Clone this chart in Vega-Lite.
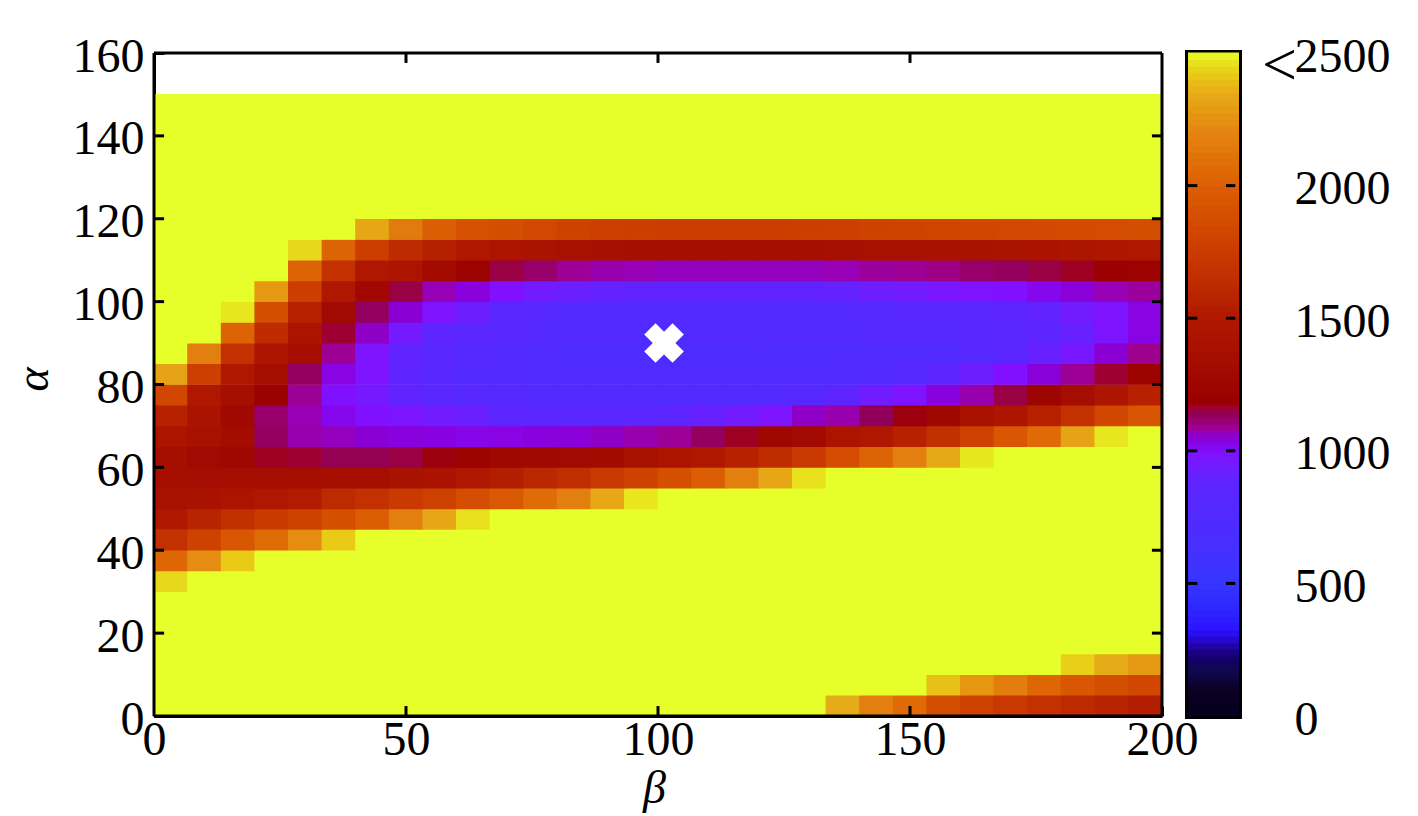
{"$schema":"https://vega.github.io/schema/vega-lite/v6.json","background":"white","padding":{"left":10,"top":30,"right":5,"bottom":5},"bounds":"flush","spacing":26,
"config":{"view":{"stroke":null},"axis":{"labelFont":"Liberation Serif","labelFontSize":48,"labelColor":"#000","titleFont":"Liberation Serif","titleFontSize":46,"titleFontStyle":"italic","titleFontWeight":"normal","titleColor":"#000","grid":false,"tickColor":"#000","tickWidth":3,"tickSize":-10,"domainColor":"#000","domainWidth":3,"zindex":1}},
"hconcat":[
{"width":1008,"height":663,
"layer":[
{"data":{"values":[
{"b":3.33,"a":2.5,"v":2500},{"b":10,"a":2.5,"v":2500},{"b":16.67,"a":2.5,"v":2500},{"b":23.33,"a":2.5,"v":2500},{"b":30,"a":2.5,"v":2500},{"b":36.67,"a":2.5,"v":2500},{"b":43.33,"a":2.5,"v":2500},{"b":50,"a":2.5,"v":2500},{"b":56.67,"a":2.5,"v":2500},{"b":63.33,"a":2.5,"v":2500},{"b":70,"a":2.5,"v":2500},{"b":76.67,"a":2.5,"v":2500},{"b":83.33,"a":2.5,"v":2500},{"b":90,"a":2.5,"v":2500},{"b":96.67,"a":2.5,"v":2500},{"b":103.33,"a":2.5,"v":2500},{"b":110,"a":2.5,"v":2500},{"b":116.67,"a":2.5,"v":2500},{"b":123.33,"a":2.5,"v":2500},{"b":130,"a":2.5,"v":2500},{"b":136.67,"a":2.5,"v":2350},{"b":143.33,"a":2.5,"v":2170},{"b":150,"a":2.5,"v":2060},{"b":156.67,"a":2.5,"v":1880},{"b":163.33,"a":2.5,"v":1790},{"b":170,"a":2.5,"v":1730},{"b":176.67,"a":2.5,"v":1680},{"b":183.33,"a":2.5,"v":1620},{"b":190,"a":2.5,"v":1570},{"b":196.67,"a":2.5,"v":1530},
{"b":3.33,"a":7.5,"v":2500},{"b":10,"a":7.5,"v":2500},{"b":16.67,"a":7.5,"v":2500},{"b":23.33,"a":7.5,"v":2500},{"b":30,"a":7.5,"v":2500},{"b":36.67,"a":7.5,"v":2500},{"b":43.33,"a":7.5,"v":2500},{"b":50,"a":7.5,"v":2500},{"b":56.67,"a":7.5,"v":2500},{"b":63.33,"a":7.5,"v":2500},{"b":70,"a":7.5,"v":2500},{"b":76.67,"a":7.5,"v":2500},{"b":83.33,"a":7.5,"v":2500},{"b":90,"a":7.5,"v":2500},{"b":96.67,"a":7.5,"v":2500},{"b":103.33,"a":7.5,"v":2500},{"b":110,"a":7.5,"v":2500},{"b":116.67,"a":7.5,"v":2500},{"b":123.33,"a":7.5,"v":2500},{"b":130,"a":7.5,"v":2500},{"b":136.67,"a":7.5,"v":2500},{"b":143.33,"a":7.5,"v":2500},{"b":150,"a":7.5,"v":2500},{"b":156.67,"a":7.5,"v":2400},{"b":163.33,"a":7.5,"v":2270},{"b":170,"a":7.5,"v":2160},{"b":176.67,"a":7.5,"v":2040},{"b":183.33,"a":7.5,"v":1950},{"b":190,"a":7.5,"v":1880},{"b":196.67,"a":7.5,"v":1830},
{"b":3.33,"a":12.5,"v":2500},{"b":10,"a":12.5,"v":2500},{"b":16.67,"a":12.5,"v":2500},{"b":23.33,"a":12.5,"v":2500},{"b":30,"a":12.5,"v":2500},{"b":36.67,"a":12.5,"v":2500},{"b":43.33,"a":12.5,"v":2500},{"b":50,"a":12.5,"v":2500},{"b":56.67,"a":12.5,"v":2500},{"b":63.33,"a":12.5,"v":2500},{"b":70,"a":12.5,"v":2500},{"b":76.67,"a":12.5,"v":2500},{"b":83.33,"a":12.5,"v":2500},{"b":90,"a":12.5,"v":2500},{"b":96.67,"a":12.5,"v":2500},{"b":103.33,"a":12.5,"v":2500},{"b":110,"a":12.5,"v":2500},{"b":116.67,"a":12.5,"v":2500},{"b":123.33,"a":12.5,"v":2500},{"b":130,"a":12.5,"v":2500},{"b":136.67,"a":12.5,"v":2500},{"b":143.33,"a":12.5,"v":2500},{"b":150,"a":12.5,"v":2500},{"b":156.67,"a":12.5,"v":2500},{"b":163.33,"a":12.5,"v":2500},{"b":170,"a":12.5,"v":2500},{"b":176.67,"a":12.5,"v":2500},{"b":183.33,"a":12.5,"v":2430},{"b":190,"a":12.5,"v":2350},{"b":196.67,"a":12.5,"v":2280},
{"b":3.33,"a":17.5,"v":2500},{"b":10,"a":17.5,"v":2500},{"b":16.67,"a":17.5,"v":2500},{"b":23.33,"a":17.5,"v":2500},{"b":30,"a":17.5,"v":2500},{"b":36.67,"a":17.5,"v":2500},{"b":43.33,"a":17.5,"v":2500},{"b":50,"a":17.5,"v":2500},{"b":56.67,"a":17.5,"v":2500},{"b":63.33,"a":17.5,"v":2500},{"b":70,"a":17.5,"v":2500},{"b":76.67,"a":17.5,"v":2500},{"b":83.33,"a":17.5,"v":2500},{"b":90,"a":17.5,"v":2500},{"b":96.67,"a":17.5,"v":2500},{"b":103.33,"a":17.5,"v":2500},{"b":110,"a":17.5,"v":2500},{"b":116.67,"a":17.5,"v":2500},{"b":123.33,"a":17.5,"v":2500},{"b":130,"a":17.5,"v":2500},{"b":136.67,"a":17.5,"v":2500},{"b":143.33,"a":17.5,"v":2500},{"b":150,"a":17.5,"v":2500},{"b":156.67,"a":17.5,"v":2500},{"b":163.33,"a":17.5,"v":2500},{"b":170,"a":17.5,"v":2500},{"b":176.67,"a":17.5,"v":2500},{"b":183.33,"a":17.5,"v":2500},{"b":190,"a":17.5,"v":2500},{"b":196.67,"a":17.5,"v":2500},
{"b":3.33,"a":22.5,"v":2500},{"b":10,"a":22.5,"v":2500},{"b":16.67,"a":22.5,"v":2500},{"b":23.33,"a":22.5,"v":2500},{"b":30,"a":22.5,"v":2500},{"b":36.67,"a":22.5,"v":2500},{"b":43.33,"a":22.5,"v":2500},{"b":50,"a":22.5,"v":2500},{"b":56.67,"a":22.5,"v":2500},{"b":63.33,"a":22.5,"v":2500},{"b":70,"a":22.5,"v":2500},{"b":76.67,"a":22.5,"v":2500},{"b":83.33,"a":22.5,"v":2500},{"b":90,"a":22.5,"v":2500},{"b":96.67,"a":22.5,"v":2500},{"b":103.33,"a":22.5,"v":2500},{"b":110,"a":22.5,"v":2500},{"b":116.67,"a":22.5,"v":2500},{"b":123.33,"a":22.5,"v":2500},{"b":130,"a":22.5,"v":2500},{"b":136.67,"a":22.5,"v":2500},{"b":143.33,"a":22.5,"v":2500},{"b":150,"a":22.5,"v":2500},{"b":156.67,"a":22.5,"v":2500},{"b":163.33,"a":22.5,"v":2500},{"b":170,"a":22.5,"v":2500},{"b":176.67,"a":22.5,"v":2500},{"b":183.33,"a":22.5,"v":2500},{"b":190,"a":22.5,"v":2500},{"b":196.67,"a":22.5,"v":2500},
{"b":3.33,"a":27.5,"v":2500},{"b":10,"a":27.5,"v":2500},{"b":16.67,"a":27.5,"v":2500},{"b":23.33,"a":27.5,"v":2500},{"b":30,"a":27.5,"v":2500},{"b":36.67,"a":27.5,"v":2500},{"b":43.33,"a":27.5,"v":2500},{"b":50,"a":27.5,"v":2500},{"b":56.67,"a":27.5,"v":2500},{"b":63.33,"a":27.5,"v":2500},{"b":70,"a":27.5,"v":2500},{"b":76.67,"a":27.5,"v":2500},{"b":83.33,"a":27.5,"v":2500},{"b":90,"a":27.5,"v":2500},{"b":96.67,"a":27.5,"v":2500},{"b":103.33,"a":27.5,"v":2500},{"b":110,"a":27.5,"v":2500},{"b":116.67,"a":27.5,"v":2500},{"b":123.33,"a":27.5,"v":2500},{"b":130,"a":27.5,"v":2500},{"b":136.67,"a":27.5,"v":2500},{"b":143.33,"a":27.5,"v":2500},{"b":150,"a":27.5,"v":2500},{"b":156.67,"a":27.5,"v":2500},{"b":163.33,"a":27.5,"v":2500},{"b":170,"a":27.5,"v":2500},{"b":176.67,"a":27.5,"v":2500},{"b":183.33,"a":27.5,"v":2500},{"b":190,"a":27.5,"v":2500},{"b":196.67,"a":27.5,"v":2500},
{"b":3.33,"a":32.5,"v":2450},{"b":10,"a":32.5,"v":2500},{"b":16.67,"a":32.5,"v":2500},{"b":23.33,"a":32.5,"v":2500},{"b":30,"a":32.5,"v":2500},{"b":36.67,"a":32.5,"v":2500},{"b":43.33,"a":32.5,"v":2500},{"b":50,"a":32.5,"v":2500},{"b":56.67,"a":32.5,"v":2500},{"b":63.33,"a":32.5,"v":2500},{"b":70,"a":32.5,"v":2500},{"b":76.67,"a":32.5,"v":2500},{"b":83.33,"a":32.5,"v":2500},{"b":90,"a":32.5,"v":2500},{"b":96.67,"a":32.5,"v":2500},{"b":103.33,"a":32.5,"v":2500},{"b":110,"a":32.5,"v":2500},{"b":116.67,"a":32.5,"v":2500},{"b":123.33,"a":32.5,"v":2500},{"b":130,"a":32.5,"v":2500},{"b":136.67,"a":32.5,"v":2500},{"b":143.33,"a":32.5,"v":2500},{"b":150,"a":32.5,"v":2500},{"b":156.67,"a":32.5,"v":2500},{"b":163.33,"a":32.5,"v":2500},{"b":170,"a":32.5,"v":2500},{"b":176.67,"a":32.5,"v":2500},{"b":183.33,"a":32.5,"v":2500},{"b":190,"a":32.5,"v":2500},{"b":196.67,"a":32.5,"v":2500},
{"b":3.33,"a":37.5,"v":2040},{"b":10,"a":37.5,"v":2230},{"b":16.67,"a":37.5,"v":2420},{"b":23.33,"a":37.5,"v":2500},{"b":30,"a":37.5,"v":2500},{"b":36.67,"a":37.5,"v":2500},{"b":43.33,"a":37.5,"v":2500},{"b":50,"a":37.5,"v":2500},{"b":56.67,"a":37.5,"v":2500},{"b":63.33,"a":37.5,"v":2500},{"b":70,"a":37.5,"v":2500},{"b":76.67,"a":37.5,"v":2500},{"b":83.33,"a":37.5,"v":2500},{"b":90,"a":37.5,"v":2500},{"b":96.67,"a":37.5,"v":2500},{"b":103.33,"a":37.5,"v":2500},{"b":110,"a":37.5,"v":2500},{"b":116.67,"a":37.5,"v":2500},{"b":123.33,"a":37.5,"v":2500},{"b":130,"a":37.5,"v":2500},{"b":136.67,"a":37.5,"v":2500},{"b":143.33,"a":37.5,"v":2500},{"b":150,"a":37.5,"v":2500},{"b":156.67,"a":37.5,"v":2500},{"b":163.33,"a":37.5,"v":2500},{"b":170,"a":37.5,"v":2500},{"b":176.67,"a":37.5,"v":2500},{"b":183.33,"a":37.5,"v":2500},{"b":190,"a":37.5,"v":2500},{"b":196.67,"a":37.5,"v":2500},
{"b":3.33,"a":42.5,"v":1680},{"b":10,"a":42.5,"v":1800},{"b":16.67,"a":42.5,"v":1950},{"b":23.33,"a":42.5,"v":2070},{"b":30,"a":42.5,"v":2230},{"b":36.67,"a":42.5,"v":2420},{"b":43.33,"a":42.5,"v":2500},{"b":50,"a":42.5,"v":2500},{"b":56.67,"a":42.5,"v":2500},{"b":63.33,"a":42.5,"v":2500},{"b":70,"a":42.5,"v":2500},{"b":76.67,"a":42.5,"v":2500},{"b":83.33,"a":42.5,"v":2500},{"b":90,"a":42.5,"v":2500},{"b":96.67,"a":42.5,"v":2500},{"b":103.33,"a":42.5,"v":2500},{"b":110,"a":42.5,"v":2500},{"b":116.67,"a":42.5,"v":2500},{"b":123.33,"a":42.5,"v":2500},{"b":130,"a":42.5,"v":2500},{"b":136.67,"a":42.5,"v":2500},{"b":143.33,"a":42.5,"v":2500},{"b":150,"a":42.5,"v":2500},{"b":156.67,"a":42.5,"v":2500},{"b":163.33,"a":42.5,"v":2500},{"b":170,"a":42.5,"v":2500},{"b":176.67,"a":42.5,"v":2500},{"b":183.33,"a":42.5,"v":2500},{"b":190,"a":42.5,"v":2500},{"b":196.67,"a":42.5,"v":2500},
{"b":3.33,"a":47.5,"v":1500},{"b":10,"a":47.5,"v":1570},{"b":16.67,"a":47.5,"v":1670},{"b":23.33,"a":47.5,"v":1740},{"b":30,"a":47.5,"v":1800},{"b":36.67,"a":47.5,"v":1890},{"b":43.33,"a":47.5,"v":2000},{"b":50,"a":47.5,"v":2170},{"b":56.67,"a":47.5,"v":2330},{"b":63.33,"a":47.5,"v":2460},{"b":70,"a":47.5,"v":2500},{"b":76.67,"a":47.5,"v":2500},{"b":83.33,"a":47.5,"v":2500},{"b":90,"a":47.5,"v":2500},{"b":96.67,"a":47.5,"v":2500},{"b":103.33,"a":47.5,"v":2500},{"b":110,"a":47.5,"v":2500},{"b":116.67,"a":47.5,"v":2500},{"b":123.33,"a":47.5,"v":2500},{"b":130,"a":47.5,"v":2500},{"b":136.67,"a":47.5,"v":2500},{"b":143.33,"a":47.5,"v":2500},{"b":150,"a":47.5,"v":2500},{"b":156.67,"a":47.5,"v":2500},{"b":163.33,"a":47.5,"v":2500},{"b":170,"a":47.5,"v":2500},{"b":176.67,"a":47.5,"v":2500},{"b":183.33,"a":47.5,"v":2500},{"b":190,"a":47.5,"v":2500},{"b":196.67,"a":47.5,"v":2500},
{"b":3.33,"a":52.5,"v":1380},{"b":10,"a":52.5,"v":1410},{"b":16.67,"a":52.5,"v":1440},{"b":23.33,"a":52.5,"v":1480},{"b":30,"a":52.5,"v":1520},{"b":36.67,"a":52.5,"v":1620},{"b":43.33,"a":52.5,"v":1680},{"b":50,"a":52.5,"v":1740},{"b":56.67,"a":52.5,"v":1790},{"b":63.33,"a":52.5,"v":1880},{"b":70,"a":52.5,"v":1960},{"b":76.67,"a":52.5,"v":2070},{"b":83.33,"a":52.5,"v":2170},{"b":90,"a":52.5,"v":2340},{"b":96.67,"a":52.5,"v":2470},{"b":103.33,"a":52.5,"v":2500},{"b":110,"a":52.5,"v":2500},{"b":116.67,"a":52.5,"v":2500},{"b":123.33,"a":52.5,"v":2500},{"b":130,"a":52.5,"v":2500},{"b":136.67,"a":52.5,"v":2500},{"b":143.33,"a":52.5,"v":2500},{"b":150,"a":52.5,"v":2500},{"b":156.67,"a":52.5,"v":2500},{"b":163.33,"a":52.5,"v":2500},{"b":170,"a":52.5,"v":2500},{"b":176.67,"a":52.5,"v":2500},{"b":183.33,"a":52.5,"v":2500},{"b":190,"a":52.5,"v":2500},{"b":196.67,"a":52.5,"v":2500},
{"b":3.33,"a":57.5,"v":1350},{"b":10,"a":57.5,"v":1340},{"b":16.67,"a":57.5,"v":1340},{"b":23.33,"a":57.5,"v":1340},{"b":30,"a":57.5,"v":1340},{"b":36.67,"a":57.5,"v":1350},{"b":43.33,"a":57.5,"v":1360},{"b":50,"a":57.5,"v":1400},{"b":56.67,"a":57.5,"v":1430},{"b":63.33,"a":57.5,"v":1490},{"b":70,"a":57.5,"v":1530},{"b":76.67,"a":57.5,"v":1600},{"b":83.33,"a":57.5,"v":1650},{"b":90,"a":57.5,"v":1730},{"b":96.67,"a":57.5,"v":1800},{"b":103.33,"a":57.5,"v":1890},{"b":110,"a":57.5,"v":2000},{"b":116.67,"a":57.5,"v":2170},{"b":123.33,"a":57.5,"v":2330},{"b":130,"a":57.5,"v":2460},{"b":136.67,"a":57.5,"v":2500},{"b":143.33,"a":57.5,"v":2500},{"b":150,"a":57.5,"v":2500},{"b":156.67,"a":57.5,"v":2500},{"b":163.33,"a":57.5,"v":2500},{"b":170,"a":57.5,"v":2500},{"b":176.67,"a":57.5,"v":2500},{"b":183.33,"a":57.5,"v":2500},{"b":190,"a":57.5,"v":2500},{"b":196.67,"a":57.5,"v":2500},
{"b":3.33,"a":62.5,"v":1350},{"b":10,"a":62.5,"v":1300},{"b":16.67,"a":62.5,"v":1270},{"b":23.33,"a":62.5,"v":1170},{"b":30,"a":62.5,"v":1160},{"b":36.67,"a":62.5,"v":1140},{"b":43.33,"a":62.5,"v":1140},{"b":50,"a":62.5,"v":1150},{"b":56.67,"a":62.5,"v":1180},{"b":63.33,"a":62.5,"v":1210},{"b":70,"a":62.5,"v":1270},{"b":76.67,"a":62.5,"v":1280},{"b":83.33,"a":62.5,"v":1300},{"b":90,"a":62.5,"v":1320},{"b":96.67,"a":62.5,"v":1380},{"b":103.33,"a":62.5,"v":1440},{"b":110,"a":62.5,"v":1490},{"b":116.67,"a":62.5,"v":1560},{"b":123.33,"a":62.5,"v":1640},{"b":130,"a":62.5,"v":1730},{"b":136.67,"a":62.5,"v":1870},{"b":143.33,"a":62.5,"v":2030},{"b":150,"a":62.5,"v":2170},{"b":156.67,"a":62.5,"v":2340},{"b":163.33,"a":62.5,"v":2470},{"b":170,"a":62.5,"v":2500},{"b":176.67,"a":62.5,"v":2500},{"b":183.33,"a":62.5,"v":2500},{"b":190,"a":62.5,"v":2500},{"b":196.67,"a":62.5,"v":2500},
{"b":3.33,"a":67.5,"v":1440},{"b":10,"a":67.5,"v":1380},{"b":16.67,"a":67.5,"v":1330},{"b":23.33,"a":67.5,"v":1130},{"b":30,"a":67.5,"v":1075},{"b":36.67,"a":67.5,"v":1065},{"b":43.33,"a":67.5,"v":1050},{"b":50,"a":67.5,"v":1040},{"b":56.67,"a":67.5,"v":1035},{"b":63.33,"a":67.5,"v":1025},{"b":70,"a":67.5,"v":1030},{"b":76.67,"a":67.5,"v":1040},{"b":83.33,"a":67.5,"v":1045},{"b":90,"a":67.5,"v":1060},{"b":96.67,"a":67.5,"v":1075},{"b":103.33,"a":67.5,"v":1090},{"b":110,"a":67.5,"v":1130},{"b":116.67,"a":67.5,"v":1170},{"b":123.33,"a":67.5,"v":1260},{"b":130,"a":67.5,"v":1300},{"b":136.67,"a":67.5,"v":1440},{"b":143.33,"a":67.5,"v":1490},{"b":150,"a":67.5,"v":1560},{"b":156.67,"a":67.5,"v":1670},{"b":163.33,"a":67.5,"v":1790},{"b":170,"a":67.5,"v":1950},{"b":176.67,"a":67.5,"v":2060},{"b":183.33,"a":67.5,"v":2320},{"b":190,"a":67.5,"v":2470},{"b":196.67,"a":67.5,"v":2500},
{"b":3.33,"a":72.5,"v":1560},{"b":10,"a":72.5,"v":1420},{"b":16.67,"a":72.5,"v":1280},{"b":23.33,"a":72.5,"v":1120},{"b":30,"a":72.5,"v":1070},{"b":36.67,"a":72.5,"v":1020},{"b":43.33,"a":72.5,"v":1000},{"b":50,"a":72.5,"v":980},{"b":56.67,"a":72.5,"v":950},{"b":63.33,"a":72.5,"v":920},{"b":70,"a":72.5,"v":860},{"b":76.67,"a":72.5,"v":850},{"b":83.33,"a":72.5,"v":840},{"b":90,"a":72.5,"v":840},{"b":96.67,"a":72.5,"v":850},{"b":103.33,"a":72.5,"v":870},{"b":110,"a":72.5,"v":910},{"b":116.67,"a":72.5,"v":950},{"b":123.33,"a":72.5,"v":990},{"b":130,"a":72.5,"v":1060},{"b":136.67,"a":72.5,"v":1075},{"b":143.33,"a":72.5,"v":1135},{"b":150,"a":72.5,"v":1180},{"b":156.67,"a":72.5,"v":1270},{"b":163.33,"a":72.5,"v":1380},{"b":170,"a":72.5,"v":1460},{"b":176.67,"a":72.5,"v":1560},{"b":183.33,"a":72.5,"v":1680},{"b":190,"a":72.5,"v":1830},{"b":196.67,"a":72.5,"v":1940},
{"b":3.33,"a":77.5,"v":1830},{"b":10,"a":77.5,"v":1490},{"b":16.67,"a":77.5,"v":1360},{"b":23.33,"a":77.5,"v":1200},{"b":30,"a":77.5,"v":1090},{"b":36.67,"a":77.5,"v":1000},{"b":43.33,"a":77.5,"v":960},{"b":50,"a":77.5,"v":890},{"b":56.67,"a":77.5,"v":840},{"b":63.33,"a":77.5,"v":810},{"b":70,"a":77.5,"v":790},{"b":76.67,"a":77.5,"v":780},{"b":83.33,"a":77.5,"v":760},{"b":90,"a":77.5,"v":760},{"b":96.67,"a":77.5,"v":760},{"b":103.33,"a":77.5,"v":760},{"b":110,"a":77.5,"v":760},{"b":116.67,"a":77.5,"v":760},{"b":123.33,"a":77.5,"v":770},{"b":130,"a":77.5,"v":810},{"b":136.67,"a":77.5,"v":880},{"b":143.33,"a":77.5,"v":940},{"b":150,"a":77.5,"v":990},{"b":156.67,"a":77.5,"v":1040},{"b":163.33,"a":77.5,"v":1075},{"b":170,"a":77.5,"v":1150},{"b":176.67,"a":77.5,"v":1250},{"b":183.33,"a":77.5,"v":1340},{"b":190,"a":77.5,"v":1460},{"b":196.67,"a":77.5,"v":1560},
{"b":3.33,"a":82.5,"v":2320},{"b":10,"a":82.5,"v":1780},{"b":16.67,"a":82.5,"v":1480},{"b":23.33,"a":82.5,"v":1340},{"b":30,"a":82.5,"v":1130},{"b":36.67,"a":82.5,"v":1030},{"b":43.33,"a":82.5,"v":990},{"b":50,"a":82.5,"v":880},{"b":56.67,"a":82.5,"v":820},{"b":63.33,"a":82.5,"v":780},{"b":70,"a":82.5,"v":770},{"b":76.67,"a":82.5,"v":750},{"b":83.33,"a":82.5,"v":730},{"b":90,"a":82.5,"v":730},{"b":96.67,"a":82.5,"v":730},{"b":103.33,"a":82.5,"v":730},{"b":110,"a":82.5,"v":730},{"b":116.67,"a":82.5,"v":730},{"b":123.33,"a":82.5,"v":730},{"b":130,"a":82.5,"v":730},{"b":136.67,"a":82.5,"v":740},{"b":143.33,"a":82.5,"v":760},{"b":150,"a":82.5,"v":790},{"b":156.67,"a":82.5,"v":850},{"b":163.33,"a":82.5,"v":930},{"b":170,"a":82.5,"v":1000},{"b":176.67,"a":82.5,"v":1045},{"b":183.33,"a":82.5,"v":1090},{"b":190,"a":82.5,"v":1160},{"b":196.67,"a":82.5,"v":1210},
{"b":3.33,"a":87.5,"v":2500},{"b":10,"a":87.5,"v":2170},{"b":16.67,"a":87.5,"v":1680},{"b":23.33,"a":87.5,"v":1460},{"b":30,"a":87.5,"v":1340},{"b":36.67,"a":87.5,"v":1090},{"b":43.33,"a":87.5,"v":990},{"b":50,"a":87.5,"v":890},{"b":56.67,"a":87.5,"v":820},{"b":63.33,"a":87.5,"v":790},{"b":70,"a":87.5,"v":770},{"b":76.67,"a":87.5,"v":750},{"b":83.33,"a":87.5,"v":720},{"b":90,"a":87.5,"v":720},{"b":96.67,"a":87.5,"v":720},{"b":103.33,"a":87.5,"v":720},{"b":110,"a":87.5,"v":720},{"b":116.67,"a":87.5,"v":720},{"b":123.33,"a":87.5,"v":720},{"b":130,"a":87.5,"v":720},{"b":136.67,"a":87.5,"v":730},{"b":143.33,"a":87.5,"v":740},{"b":150,"a":87.5,"v":750},{"b":156.67,"a":87.5,"v":760},{"b":163.33,"a":87.5,"v":800},{"b":170,"a":87.5,"v":850},{"b":176.67,"a":87.5,"v":910},{"b":183.33,"a":87.5,"v":970},{"b":190,"a":87.5,"v":1050},{"b":196.67,"a":87.5,"v":1095},
{"b":3.33,"a":92.5,"v":2500},{"b":10,"a":92.5,"v":2500},{"b":16.67,"a":92.5,"v":2030},{"b":23.33,"a":92.5,"v":1630},{"b":30,"a":92.5,"v":1440},{"b":36.67,"a":92.5,"v":1160},{"b":43.33,"a":92.5,"v":1060},{"b":50,"a":92.5,"v":960},{"b":56.67,"a":92.5,"v":880},{"b":63.33,"a":92.5,"v":840},{"b":70,"a":92.5,"v":800},{"b":76.67,"a":92.5,"v":780},{"b":83.33,"a":92.5,"v":740},{"b":90,"a":92.5,"v":740},{"b":96.67,"a":92.5,"v":740},{"b":103.33,"a":92.5,"v":740},{"b":110,"a":92.5,"v":740},{"b":116.67,"a":92.5,"v":740},{"b":123.33,"a":92.5,"v":740},{"b":130,"a":92.5,"v":740},{"b":136.67,"a":92.5,"v":760},{"b":143.33,"a":92.5,"v":770},{"b":150,"a":92.5,"v":780},{"b":156.67,"a":92.5,"v":790},{"b":163.33,"a":92.5,"v":810},{"b":170,"a":92.5,"v":840},{"b":176.67,"a":92.5,"v":870},{"b":183.33,"a":92.5,"v":910},{"b":190,"a":92.5,"v":990},{"b":196.67,"a":92.5,"v":1030},
{"b":3.33,"a":97.5,"v":2500},{"b":10,"a":97.5,"v":2500},{"b":16.67,"a":97.5,"v":2470},{"b":23.33,"a":97.5,"v":1880},{"b":30,"a":97.5,"v":1560},{"b":36.67,"a":97.5,"v":1300},{"b":43.33,"a":97.5,"v":1130},{"b":50,"a":97.5,"v":1050},{"b":56.67,"a":97.5,"v":990},{"b":63.33,"a":97.5,"v":930},{"b":70,"a":97.5,"v":830},{"b":76.67,"a":97.5,"v":800},{"b":83.33,"a":97.5,"v":770},{"b":90,"a":97.5,"v":770},{"b":96.67,"a":97.5,"v":770},{"b":103.33,"a":97.5,"v":770},{"b":110,"a":97.5,"v":770},{"b":116.67,"a":97.5,"v":770},{"b":123.33,"a":97.5,"v":770},{"b":130,"a":97.5,"v":770},{"b":136.67,"a":97.5,"v":780},{"b":143.33,"a":97.5,"v":790},{"b":150,"a":97.5,"v":800},{"b":156.67,"a":97.5,"v":810},{"b":163.33,"a":97.5,"v":840},{"b":170,"a":97.5,"v":870},{"b":176.67,"a":97.5,"v":890},{"b":183.33,"a":97.5,"v":950},{"b":190,"a":97.5,"v":990},{"b":196.67,"a":97.5,"v":1030},
{"b":3.33,"a":102.5,"v":2500},{"b":10,"a":102.5,"v":2500},{"b":16.67,"a":102.5,"v":2500},{"b":23.33,"a":102.5,"v":2280},{"b":30,"a":102.5,"v":1770},{"b":36.67,"a":102.5,"v":1490},{"b":43.33,"a":102.5,"v":1280},{"b":50,"a":102.5,"v":1150},{"b":56.67,"a":102.5,"v":1070},{"b":63.33,"a":102.5,"v":1040},{"b":70,"a":102.5,"v":1000},{"b":76.67,"a":102.5,"v":950},{"b":83.33,"a":102.5,"v":920},{"b":90,"a":102.5,"v":900},{"b":96.67,"a":102.5,"v":890},{"b":103.33,"a":102.5,"v":890},{"b":110,"a":102.5,"v":890},{"b":116.67,"a":102.5,"v":890},{"b":123.33,"a":102.5,"v":890},{"b":130,"a":102.5,"v":890},{"b":136.67,"a":102.5,"v":900},{"b":143.33,"a":102.5,"v":930},{"b":150,"a":102.5,"v":950},{"b":156.67,"a":102.5,"v":970},{"b":163.33,"a":102.5,"v":990},{"b":170,"a":102.5,"v":1000},{"b":176.67,"a":102.5,"v":1020},{"b":183.33,"a":102.5,"v":1045},{"b":190,"a":102.5,"v":1070},{"b":196.67,"a":102.5,"v":1085},
{"b":3.33,"a":107.5,"v":2500},{"b":10,"a":107.5,"v":2500},{"b":16.67,"a":107.5,"v":2500},{"b":23.33,"a":107.5,"v":2500},{"b":30,"a":107.5,"v":2030},{"b":36.67,"a":107.5,"v":1680},{"b":43.33,"a":107.5,"v":1490},{"b":50,"a":107.5,"v":1440},{"b":56.67,"a":107.5,"v":1300},{"b":63.33,"a":107.5,"v":1210},{"b":70,"a":107.5,"v":1150},{"b":76.67,"a":107.5,"v":1120},{"b":83.33,"a":107.5,"v":1090},{"b":90,"a":107.5,"v":1075},{"b":96.67,"a":107.5,"v":1070},{"b":103.33,"a":107.5,"v":1065},{"b":110,"a":107.5,"v":1065},{"b":116.67,"a":107.5,"v":1065},{"b":123.33,"a":107.5,"v":1065},{"b":130,"a":107.5,"v":1065},{"b":136.67,"a":107.5,"v":1070},{"b":143.33,"a":107.5,"v":1085},{"b":150,"a":107.5,"v":1090},{"b":156.67,"a":107.5,"v":1100},{"b":163.33,"a":107.5,"v":1120},{"b":170,"a":107.5,"v":1130},{"b":176.67,"a":107.5,"v":1150},{"b":183.33,"a":107.5,"v":1170},{"b":190,"a":107.5,"v":1200},{"b":196.67,"a":107.5,"v":1210},
{"b":3.33,"a":112.5,"v":2500},{"b":10,"a":112.5,"v":2500},{"b":16.67,"a":112.5,"v":2500},{"b":23.33,"a":112.5,"v":2500},{"b":30,"a":112.5,"v":2450},{"b":36.67,"a":112.5,"v":2030},{"b":43.33,"a":112.5,"v":1770},{"b":50,"a":112.5,"v":1630},{"b":56.67,"a":112.5,"v":1550},{"b":63.33,"a":112.5,"v":1480},{"b":70,"a":112.5,"v":1440},{"b":76.67,"a":112.5,"v":1420},{"b":83.33,"a":112.5,"v":1390},{"b":90,"a":112.5,"v":1370},{"b":96.67,"a":112.5,"v":1360},{"b":103.33,"a":112.5,"v":1350},{"b":110,"a":112.5,"v":1350},{"b":116.67,"a":112.5,"v":1350},{"b":123.33,"a":112.5,"v":1350},{"b":130,"a":112.5,"v":1360},{"b":136.67,"a":112.5,"v":1370},{"b":143.33,"a":112.5,"v":1380},{"b":150,"a":112.5,"v":1390},{"b":156.67,"a":112.5,"v":1400},{"b":163.33,"a":112.5,"v":1410},{"b":170,"a":112.5,"v":1420},{"b":176.67,"a":112.5,"v":1430},{"b":183.33,"a":112.5,"v":1450},{"b":190,"a":112.5,"v":1470},{"b":196.67,"a":112.5,"v":1480},
{"b":3.33,"a":117.5,"v":2500},{"b":10,"a":117.5,"v":2500},{"b":16.67,"a":117.5,"v":2500},{"b":23.33,"a":117.5,"v":2500},{"b":30,"a":117.5,"v":2500},{"b":36.67,"a":117.5,"v":2500},{"b":43.33,"a":117.5,"v":2330},{"b":50,"a":117.5,"v":2150},{"b":56.67,"a":117.5,"v":2000},{"b":63.33,"a":117.5,"v":1900},{"b":70,"a":117.5,"v":1880},{"b":76.67,"a":117.5,"v":1840},{"b":83.33,"a":117.5,"v":1800},{"b":90,"a":117.5,"v":1780},{"b":96.67,"a":117.5,"v":1770},{"b":103.33,"a":117.5,"v":1760},{"b":110,"a":117.5,"v":1760},{"b":116.67,"a":117.5,"v":1760},{"b":123.33,"a":117.5,"v":1760},{"b":130,"a":117.5,"v":1770},{"b":136.67,"a":117.5,"v":1780},{"b":143.33,"a":117.5,"v":1800},{"b":150,"a":117.5,"v":1810},{"b":156.67,"a":117.5,"v":1820},{"b":163.33,"a":117.5,"v":1830},{"b":170,"a":117.5,"v":1840},{"b":176.67,"a":117.5,"v":1850},{"b":183.33,"a":117.5,"v":1860},{"b":190,"a":117.5,"v":1870},{"b":196.67,"a":117.5,"v":1880},
{"b":3.33,"a":122.5,"v":2500},{"b":10,"a":122.5,"v":2500},{"b":16.67,"a":122.5,"v":2500},{"b":23.33,"a":122.5,"v":2500},{"b":30,"a":122.5,"v":2500},{"b":36.67,"a":122.5,"v":2500},{"b":43.33,"a":122.5,"v":2500},{"b":50,"a":122.5,"v":2500},{"b":56.67,"a":122.5,"v":2500},{"b":63.33,"a":122.5,"v":2500},{"b":70,"a":122.5,"v":2500},{"b":76.67,"a":122.5,"v":2500},{"b":83.33,"a":122.5,"v":2500},{"b":90,"a":122.5,"v":2500},{"b":96.67,"a":122.5,"v":2500},{"b":103.33,"a":122.5,"v":2500},{"b":110,"a":122.5,"v":2500},{"b":116.67,"a":122.5,"v":2500},{"b":123.33,"a":122.5,"v":2500},{"b":130,"a":122.5,"v":2500},{"b":136.67,"a":122.5,"v":2500},{"b":143.33,"a":122.5,"v":2500},{"b":150,"a":122.5,"v":2500},{"b":156.67,"a":122.5,"v":2500},{"b":163.33,"a":122.5,"v":2500},{"b":170,"a":122.5,"v":2500},{"b":176.67,"a":122.5,"v":2500},{"b":183.33,"a":122.5,"v":2500},{"b":190,"a":122.5,"v":2500},{"b":196.67,"a":122.5,"v":2500},
{"b":3.33,"a":127.5,"v":2500},{"b":10,"a":127.5,"v":2500},{"b":16.67,"a":127.5,"v":2500},{"b":23.33,"a":127.5,"v":2500},{"b":30,"a":127.5,"v":2500},{"b":36.67,"a":127.5,"v":2500},{"b":43.33,"a":127.5,"v":2500},{"b":50,"a":127.5,"v":2500},{"b":56.67,"a":127.5,"v":2500},{"b":63.33,"a":127.5,"v":2500},{"b":70,"a":127.5,"v":2500},{"b":76.67,"a":127.5,"v":2500},{"b":83.33,"a":127.5,"v":2500},{"b":90,"a":127.5,"v":2500},{"b":96.67,"a":127.5,"v":2500},{"b":103.33,"a":127.5,"v":2500},{"b":110,"a":127.5,"v":2500},{"b":116.67,"a":127.5,"v":2500},{"b":123.33,"a":127.5,"v":2500},{"b":130,"a":127.5,"v":2500},{"b":136.67,"a":127.5,"v":2500},{"b":143.33,"a":127.5,"v":2500},{"b":150,"a":127.5,"v":2500},{"b":156.67,"a":127.5,"v":2500},{"b":163.33,"a":127.5,"v":2500},{"b":170,"a":127.5,"v":2500},{"b":176.67,"a":127.5,"v":2500},{"b":183.33,"a":127.5,"v":2500},{"b":190,"a":127.5,"v":2500},{"b":196.67,"a":127.5,"v":2500},
{"b":3.33,"a":132.5,"v":2500},{"b":10,"a":132.5,"v":2500},{"b":16.67,"a":132.5,"v":2500},{"b":23.33,"a":132.5,"v":2500},{"b":30,"a":132.5,"v":2500},{"b":36.67,"a":132.5,"v":2500},{"b":43.33,"a":132.5,"v":2500},{"b":50,"a":132.5,"v":2500},{"b":56.67,"a":132.5,"v":2500},{"b":63.33,"a":132.5,"v":2500},{"b":70,"a":132.5,"v":2500},{"b":76.67,"a":132.5,"v":2500},{"b":83.33,"a":132.5,"v":2500},{"b":90,"a":132.5,"v":2500},{"b":96.67,"a":132.5,"v":2500},{"b":103.33,"a":132.5,"v":2500},{"b":110,"a":132.5,"v":2500},{"b":116.67,"a":132.5,"v":2500},{"b":123.33,"a":132.5,"v":2500},{"b":130,"a":132.5,"v":2500},{"b":136.67,"a":132.5,"v":2500},{"b":143.33,"a":132.5,"v":2500},{"b":150,"a":132.5,"v":2500},{"b":156.67,"a":132.5,"v":2500},{"b":163.33,"a":132.5,"v":2500},{"b":170,"a":132.5,"v":2500},{"b":176.67,"a":132.5,"v":2500},{"b":183.33,"a":132.5,"v":2500},{"b":190,"a":132.5,"v":2500},{"b":196.67,"a":132.5,"v":2500},
{"b":3.33,"a":137.5,"v":2500},{"b":10,"a":137.5,"v":2500},{"b":16.67,"a":137.5,"v":2500},{"b":23.33,"a":137.5,"v":2500},{"b":30,"a":137.5,"v":2500},{"b":36.67,"a":137.5,"v":2500},{"b":43.33,"a":137.5,"v":2500},{"b":50,"a":137.5,"v":2500},{"b":56.67,"a":137.5,"v":2500},{"b":63.33,"a":137.5,"v":2500},{"b":70,"a":137.5,"v":2500},{"b":76.67,"a":137.5,"v":2500},{"b":83.33,"a":137.5,"v":2500},{"b":90,"a":137.5,"v":2500},{"b":96.67,"a":137.5,"v":2500},{"b":103.33,"a":137.5,"v":2500},{"b":110,"a":137.5,"v":2500},{"b":116.67,"a":137.5,"v":2500},{"b":123.33,"a":137.5,"v":2500},{"b":130,"a":137.5,"v":2500},{"b":136.67,"a":137.5,"v":2500},{"b":143.33,"a":137.5,"v":2500},{"b":150,"a":137.5,"v":2500},{"b":156.67,"a":137.5,"v":2500},{"b":163.33,"a":137.5,"v":2500},{"b":170,"a":137.5,"v":2500},{"b":176.67,"a":137.5,"v":2500},{"b":183.33,"a":137.5,"v":2500},{"b":190,"a":137.5,"v":2500},{"b":196.67,"a":137.5,"v":2500},
{"b":3.33,"a":142.5,"v":2500},{"b":10,"a":142.5,"v":2500},{"b":16.67,"a":142.5,"v":2500},{"b":23.33,"a":142.5,"v":2500},{"b":30,"a":142.5,"v":2500},{"b":36.67,"a":142.5,"v":2500},{"b":43.33,"a":142.5,"v":2500},{"b":50,"a":142.5,"v":2500},{"b":56.67,"a":142.5,"v":2500},{"b":63.33,"a":142.5,"v":2500},{"b":70,"a":142.5,"v":2500},{"b":76.67,"a":142.5,"v":2500},{"b":83.33,"a":142.5,"v":2500},{"b":90,"a":142.5,"v":2500},{"b":96.67,"a":142.5,"v":2500},{"b":103.33,"a":142.5,"v":2500},{"b":110,"a":142.5,"v":2500},{"b":116.67,"a":142.5,"v":2500},{"b":123.33,"a":142.5,"v":2500},{"b":130,"a":142.5,"v":2500},{"b":136.67,"a":142.5,"v":2500},{"b":143.33,"a":142.5,"v":2500},{"b":150,"a":142.5,"v":2500},{"b":156.67,"a":142.5,"v":2500},{"b":163.33,"a":142.5,"v":2500},{"b":170,"a":142.5,"v":2500},{"b":176.67,"a":142.5,"v":2500},{"b":183.33,"a":142.5,"v":2500},{"b":190,"a":142.5,"v":2500},{"b":196.67,"a":142.5,"v":2500},
{"b":3.33,"a":147.5,"v":2500},{"b":10,"a":147.5,"v":2500},{"b":16.67,"a":147.5,"v":2500},{"b":23.33,"a":147.5,"v":2500},{"b":30,"a":147.5,"v":2500},{"b":36.67,"a":147.5,"v":2500},{"b":43.33,"a":147.5,"v":2500},{"b":50,"a":147.5,"v":2500},{"b":56.67,"a":147.5,"v":2500},{"b":63.33,"a":147.5,"v":2500},{"b":70,"a":147.5,"v":2500},{"b":76.67,"a":147.5,"v":2500},{"b":83.33,"a":147.5,"v":2500},{"b":90,"a":147.5,"v":2500},{"b":96.67,"a":147.5,"v":2500},{"b":103.33,"a":147.5,"v":2500},{"b":110,"a":147.5,"v":2500},{"b":116.67,"a":147.5,"v":2500},{"b":123.33,"a":147.5,"v":2500},{"b":130,"a":147.5,"v":2500},{"b":136.67,"a":147.5,"v":2500},{"b":143.33,"a":147.5,"v":2500},{"b":150,"a":147.5,"v":2500},{"b":156.67,"a":147.5,"v":2500},{"b":163.33,"a":147.5,"v":2500},{"b":170,"a":147.5,"v":2500},{"b":176.67,"a":147.5,"v":2500},{"b":183.33,"a":147.5,"v":2500},{"b":190,"a":147.5,"v":2500},{"b":196.67,"a":147.5,"v":2500}
]},
"mark":{"type":"rect","width":34.4,"height":21.4},
"encoding":{"x":{"field":"b","type":"quantitative","scale":{"domain":[0,200],"nice":false},"axis":{"values":[0,50,100,150,200],"format":"d","title":"β","titlePadding":2,"titleX":500,"labelPadding":10,"labelFlush":false}},
"y":{"field":"a","type":"quantitative","scale":{"domain":[0,160],"nice":false},"axis":{"values":[0,20,40,60,80,100,120,140,160],"format":"d","title":"α","titlePadding":15,"titleY":326,"labelPadding":20,"labelOffset":4}},
"color":{"field":"v","type":"quantitative","legend":null,"scale":{"domain":[0,90,220,320,500,720,880,1000,1055,1135,1185,1500,1750,2000,2200,2350,2450,2500],"range":["#000000","#0a0020","#15006a","#2a10ff","#3535ff","#4e2bff","#5d24ff","#8010ff","#8a00d0","#90005a","#9a0000","#b01800","#cb3a00","#dc5e04","#e48412","#e6ab18","#e8d81c","#e6ff2a"]}}}},
{"data":{"values":[{"best_b":101.2,"best_a":90}]},
"mark":{"type":"point","shape":"cross","filled":true,"color":"white","opacity":1,"angle":45,"size":1600},
"encoding":{"x":{"field":"best_b","type":"quantitative"},"y":{"field":"best_a","type":"quantitative"}}},
{"data":{"values":[{"tb":50},{"tb":100},{"tb":150}]},
"mark":{"type":"rule","color":"#000","strokeWidth":3},
"encoding":{"x":{"field":"tb","type":"quantitative"},"y":{"datum":160},"y2":{"datum":157.6}}},
{"data":{"values":[{"tb":50},{"tb":100},{"tb":150}]},
"mark":{"type":"rule","color":"#000","strokeWidth":3},
"encoding":{"x":{"field":"tb","type":"quantitative"},"y":{"datum":0},"y2":{"datum":2.4}}},
{"data":{"values":[{"ta":20},{"ta":40},{"ta":60},{"ta":80},{"ta":100},{"ta":120},{"ta":140}]},
"mark":{"type":"rule","color":"#000","strokeWidth":3},
"encoding":{"y":{"field":"ta","type":"quantitative"},"x":{"datum":200},"x2":{"datum":198}}},
{"data":{"values":[{"ta":20},{"ta":40},{"ta":60},{"ta":80},{"ta":100},{"ta":120},{"ta":140}]},
"mark":{"type":"rule","color":"#000","strokeWidth":3},
"encoding":{"y":{"field":"ta","type":"quantitative"},"x":{"datum":0},"x2":{"datum":2}}},
{"data":{"values":[{"edge_b":0},{"edge_b":200}]},
"mark":{"type":"rule","color":"#000","strokeWidth":3},
"encoding":{"x":{"field":"edge_b","type":"quantitative"}}},
{"data":{"values":[{"edge_a":0},{"edge_a":160}]},
"mark":{"type":"rule","color":"#000","strokeWidth":3},
"encoding":{"y":{"field":"edge_a","type":"quantitative"}}}
]},
{"width":51,"height":663,"view":{"stroke":"#000","strokeWidth":6},
"layer":[
{"data":{"values":[{"lvl":12.5},{"lvl":37.5},{"lvl":62.5},{"lvl":87.5},{"lvl":112.5},{"lvl":137.5},{"lvl":162.5},{"lvl":187.5},{"lvl":212.5},{"lvl":237.5},{"lvl":262.5},{"lvl":287.5},{"lvl":312.5},{"lvl":337.5},{"lvl":362.5},{"lvl":387.5},{"lvl":412.5},{"lvl":437.5},{"lvl":462.5},{"lvl":487.5},{"lvl":512.5},{"lvl":537.5},{"lvl":562.5},{"lvl":587.5},{"lvl":612.5},{"lvl":637.5},{"lvl":662.5},{"lvl":687.5},{"lvl":712.5},{"lvl":737.5},{"lvl":762.5},{"lvl":787.5},{"lvl":812.5},{"lvl":837.5},{"lvl":862.5},{"lvl":887.5},{"lvl":912.5},{"lvl":937.5},{"lvl":962.5},{"lvl":987.5},{"lvl":1012.5},{"lvl":1037.5},{"lvl":1062.5},{"lvl":1087.5},{"lvl":1112.5},{"lvl":1137.5},{"lvl":1162.5},{"lvl":1187.5},{"lvl":1212.5},{"lvl":1237.5},{"lvl":1262.5},{"lvl":1287.5},{"lvl":1312.5},{"lvl":1337.5},{"lvl":1362.5},{"lvl":1387.5},{"lvl":1412.5},{"lvl":1437.5},{"lvl":1462.5},{"lvl":1487.5},{"lvl":1512.5},{"lvl":1537.5},{"lvl":1562.5},{"lvl":1587.5},{"lvl":1612.5},{"lvl":1637.5},{"lvl":1662.5},{"lvl":1687.5},{"lvl":1712.5},{"lvl":1737.5},{"lvl":1762.5},{"lvl":1787.5},{"lvl":1812.5},{"lvl":1837.5},{"lvl":1862.5},{"lvl":1887.5},{"lvl":1912.5},{"lvl":1937.5},{"lvl":1962.5},{"lvl":1987.5},{"lvl":2012.5},{"lvl":2037.5},{"lvl":2062.5},{"lvl":2087.5},{"lvl":2112.5},{"lvl":2137.5},{"lvl":2162.5},{"lvl":2187.5},{"lvl":2212.5},{"lvl":2237.5},{"lvl":2262.5},{"lvl":2287.5},{"lvl":2312.5},{"lvl":2337.5},{"lvl":2362.5},{"lvl":2387.5},{"lvl":2412.5},{"lvl":2437.5},{"lvl":2462.5},{"lvl":2487.5}]},
"mark":{"type":"rect","height":7.4},
"encoding":{"y":{"field":"lvl","type":"quantitative","scale":{"domain":[0,2500],"nice":false},"axis":{"orient":"right","values":[0,500,1000,1500,2000,2500],"format":"d","title":null,"domain":false,"labelAlign":"left","labelPadding":65,"labelOffset":4}},
"color":{"field":"lvl","type":"quantitative","legend":null,"scale":{"domain":[0,90,220,320,500,720,880,1000,1055,1135,1185,1500,1750,2000,2200,2350,2450,2500],"range":["#000000","#0a0020","#15006a","#2a10ff","#3535ff","#4e2bff","#5d24ff","#8010ff","#8a00d0","#90005a","#9a0000","#b01800","#cb3a00","#dc5e04","#e48412","#e6ab18","#e8d81c","#e6ff2a"]}}}},
{"data":{"values":[{"lvl":500},{"lvl":1000},{"lvl":1500},{"lvl":2000}]},
"mark":{"type":"rule","color":"#000","strokeWidth":3},
"encoding":{"y":{"field":"lvl","type":"quantitative"},"x":{"datum":0,"scale":{"domain":[0,51]},"axis":null},"x2":{"datum":10}}},
{"data":{"values":[{"lvl":500},{"lvl":1000},{"lvl":1500},{"lvl":2000}]},
"mark":{"type":"rule","color":"#000","strokeWidth":3},
"encoding":{"y":{"field":"lvl","type":"quantitative"},"x":{"datum":51},"x2":{"datum":41}}},
{"data":{"values":[{"lvl":2500,"sym":"<"}]},
"mark":{"type":"text","font":"Liberation Serif","fontSize":62,"color":"#000","dx":66,"dy":13,"baseline":"middle"},
"encoding":{"y":{"field":"lvl","type":"quantitative"},"text":{"field":"sym"}}}
]}
]}
